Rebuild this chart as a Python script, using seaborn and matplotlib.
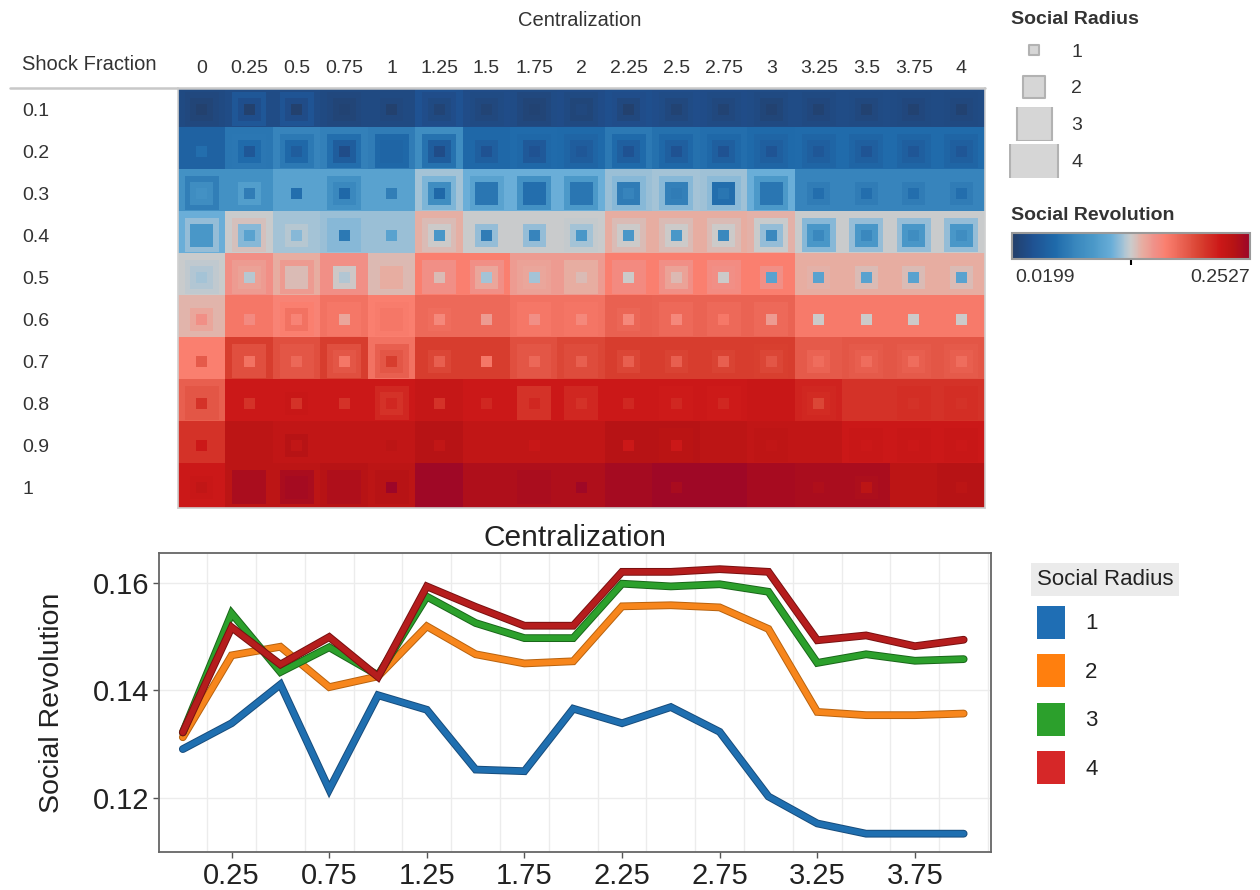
import numpy as np
import pandas as pd
import matplotlib
matplotlib.use("Agg")
import matplotlib.pyplot as plt
import matplotlib.patheffects as pe
from matplotlib.colors import LinearSegmentedColormap, Normalize
from matplotlib.cm import ScalarMappable
from matplotlib.patches import Patch, Rectangle
from matplotlib.lines import Line2D
import seaborn as sns

sns.set_theme(style="white")
plt.rcParams['font.family'] = ['Liberation Sans', 'DejaVu Sans']

# ---------------- data ----------------
centralization = [0, 0.25, 0.5, 0.75, 1, 1.25, 1.5, 1.75, 2, 2.25, 2.5, 2.75, 3, 3.25, 3.5, 3.75, 4]
central_labels = ["0", "0.25", "0.5", "0.75", "1", "1.25", "1.5", "1.75", "2", "2.25",
                  "2.5", "2.75", "3", "3.25", "3.5", "3.75", "4"]
shock_fraction = [0.1, 0.2, 0.3, 0.4, 0.5, 0.6, 0.7, 0.8, 0.9, 1.0]
shock_labels = ["0.1", "0.2", "0.3", "0.4", "0.5", "0.6", "0.7", "0.8", "0.9", "1"]
radii = [1, 2, 3, 4]
vmin, vmax = 0.0199, 0.2527

# heatmap values, rows = shock fraction, cols = centralization
rev_r4 = [
    [0.032,0.034,0.034,0.032,0.032,0.040,0.035,0.034,0.035,0.038,0.036,0.035,0.034,0.034,0.034,0.033,0.033],
    [0.055,0.070,0.080,0.078,0.075,0.088,0.060,0.063,0.062,0.072,0.067,0.065,0.062,0.063,0.063,0.063,0.063],
    [0.092,0.092,0.108,0.108,0.108,0.129,0.118,0.118,0.118,0.127,0.129,0.128,0.118,0.080,0.080,0.080,0.080],
    [0.118,0.136,0.129,0.127,0.127,0.147,0.136,0.136,0.136,0.148,0.148,0.148,0.146,0.136,0.136,0.136,0.136],
    [0.136,0.160,0.148,0.160,0.143,0.170,0.170,0.155,0.155,0.170,0.170,0.170,0.170,0.148,0.148,0.148,0.148],
    [0.145,0.175,0.168,0.178,0.170,0.182,0.182,0.178,0.178,0.187,0.186,0.186,0.186,0.173,0.173,0.173,0.173],
    [0.170,0.205,0.196,0.205,0.178,0.205,0.205,0.196,0.200,0.205,0.205,0.205,0.205,0.190,0.192,0.192,0.192],
    [0.188,0.224,0.224,0.224,0.224,0.228,0.224,0.224,0.224,0.224,0.224,0.224,0.226,0.218,0.210,0.210,0.210],
    [0.210,0.233,0.230,0.230,0.230,0.237,0.230,0.230,0.230,0.237,0.237,0.233,0.230,0.230,0.224,0.224,0.224],
    [0.224,0.233,0.233,0.237,0.233,0.250,0.241,0.241,0.241,0.247,0.250,0.250,0.246,0.244,0.244,0.233,0.237],
]
rev_r3 = [
    [0.030,0.045,0.042,0.030,0.032,0.036,0.033,0.030,0.032,0.036,0.034,0.033,0.032,0.032,0.033,0.032,0.032],
    [0.055,0.071,0.072,0.065,0.060,0.068,0.060,0.060,0.058,0.062,0.060,0.060,0.058,0.058,0.058,0.058,0.058],
    [0.076,0.092,0.108,0.092,0.108,0.121,0.108,0.092,0.100,0.1235,0.1235,0.124,0.100,0.080,0.080,0.080,0.080],
    [0.126,0.140,0.129,0.1235,0.127,0.142,0.136,0.136,0.135,0.142,0.142,0.142,0.136,0.1235,0.126,0.126,0.126],
    [0.134,0.155,0.155,0.160,0.143,0.160,0.160,0.152,0.148,0.163,0.160,0.162,0.170,0.148,0.148,0.148,0.148],
    [0.145,0.175,0.170,0.175,0.172,0.182,0.182,0.175,0.176,0.187,0.182,0.182,0.182,0.173,0.173,0.173,0.173],
    [0.170,0.196,0.192,0.196,0.188,0.205,0.205,0.192,0.198,0.205,0.205,0.205,0.204,0.190,0.190,0.190,0.190],
    [0.192,0.224,0.224,0.224,0.216,0.228,0.224,0.210,0.216,0.224,0.222,0.222,0.226,0.216,0.210,0.212,0.212],
    [0.210,0.233,0.230,0.230,0.230,0.237,0.230,0.230,0.230,0.237,0.235,0.233,0.232,0.230,0.226,0.226,0.226],
    [0.224,0.244,0.244,0.241,0.237,0.250,0.241,0.244,0.241,0.247,0.250,0.250,0.246,0.244,0.244,0.233,0.237],
]
rev_r2 = [
    [0.027,0.037,0.035,0.027,0.030,0.032,0.030,0.027,0.028,0.030,0.030,0.030,0.028,0.029,0.030,0.029,0.030],
    [0.055,0.063,0.060,0.050,0.058,0.050,0.052,0.047,0.050,0.052,0.052,0.052,0.052,0.052,0.052,0.052,0.052],
    [0.088,0.104,0.108,0.083,0.108,0.088,0.070,0.065,0.070,0.075,0.078,0.065,0.070,0.075,0.075,0.075,0.075],
    [0.099,0.1235,0.132,0.1235,0.127,0.137,0.126,0.126,0.129,0.137,0.137,0.137,0.126,0.099,0.099,0.099,0.099],
    [0.131,0.152,0.142,0.138,0.148,0.160,0.150,0.150,0.148,0.163,0.152,0.160,0.160,0.146,0.142,0.142,0.142],
    [0.150,0.175,0.178,0.175,0.175,0.180,0.182,0.175,0.176,0.184,0.182,0.182,0.182,0.173,0.173,0.173,0.173],
    [0.170,0.196,0.192,0.192,0.192,0.200,0.205,0.192,0.198,0.200,0.202,0.202,0.200,0.186,0.188,0.188,0.188],
    [0.192,0.224,0.226,0.224,0.210,0.228,0.224,0.210,0.216,0.224,0.222,0.222,0.226,0.214,0.210,0.212,0.212],
    [0.210,0.233,0.237,0.230,0.230,0.237,0.230,0.230,0.230,0.237,0.235,0.233,0.232,0.230,0.226,0.226,0.226],
    [0.226,0.244,0.247,0.241,0.237,0.250,0.241,0.244,0.241,0.247,0.250,0.250,0.246,0.244,0.242,0.233,0.237],
]
rev_r1 = [
    [0.022,0.022,0.022,0.025,0.022,0.026,0.026,0.025,0.030,0.022,0.025,0.025,0.024,0.024,0.024,0.024,0.024],
    [0.065,0.045,0.050,0.035,0.058,0.035,0.040,0.040,0.045,0.040,0.040,0.040,0.042,0.045,0.042,0.044,0.044],
    [0.092,0.075,0.065,0.060,0.076,0.060,0.070,0.065,0.070,0.080,0.075,0.070,0.070,0.065,0.065,0.065,0.065],
    [0.099,0.108,0.1235,0.072,0.108,0.099,0.075,0.080,0.099,0.099,0.099,0.083,0.083,0.083,0.083,0.088,0.088],
    [0.129,0.132,0.142,0.131,0.148,0.142,0.129,0.129,0.142,0.137,0.143,0.137,0.108,0.108,0.108,0.108,0.108],
    [0.160,0.163,0.168,0.150,0.175,0.165,0.155,0.160,0.165,0.165,0.165,0.174,0.155,0.137,0.137,0.137,0.137],
    [0.190,0.178,0.183,0.175,0.205,0.188,0.175,0.183,0.188,0.188,0.188,0.188,0.192,0.180,0.180,0.180,0.180],
    [0.210,0.210,0.210,0.210,0.216,0.210,0.216,0.216,0.210,0.216,0.216,0.216,0.226,0.200,0.210,0.210,0.210],
    [0.224,0.233,0.230,0.230,0.233,0.230,0.230,0.226,0.230,0.224,0.224,0.233,0.230,0.230,0.224,0.224,0.224],
    [0.230,0.244,0.247,0.241,0.2527,0.250,0.241,0.244,0.250,0.247,0.245,0.250,0.246,0.241,0.233,0.233,0.233],
]

# line chart: mean social revolution per centralization, per social radius
line_r1 = [0.1291,0.1339,0.1411,0.1216,0.1391,0.1364,0.1253,0.1250,0.1366,0.1339,0.1369,0.1323,0.1203,0.1153,0.1134,0.1134,0.1134]
line_r2 = [0.1313,0.1465,0.1481,0.1406,0.1426,0.1519,0.1467,0.1450,0.1454,0.1556,0.1558,0.1554,0.1514,0.1360,0.1354,0.1354,0.1357]
line_r3 = [0.1322,0.1543,0.1434,0.1480,0.1428,0.1574,0.1525,0.1497,0.1497,0.1598,0.1593,0.1597,0.1583,0.1451,0.1467,0.1455,0.1458]
line_r4 = [0.1322,0.1517,0.1448,0.1499,0.1425,0.1593,0.1555,0.1520,0.1520,0.1620,0.1620,0.1625,0.1620,0.1493,0.1502,0.1482,0.1494]

# ---------------- styles ----------------
cmap = LinearSegmentedColormap.from_list("rb", [
    (0.00, "#233f6a"), (0.08, "#1f5090"), (0.18, "#1f6aaa"), (0.27, "#3a88be"),
    (0.34, "#4a98c8"), (0.42, "#6aaed8"), (0.47, "#a8c4d6"), (0.50, "#cbcbcb"),
    (0.55, "#e8aca0"), (0.60, "#f09088"), (0.645, "#fa8070"), (0.72, "#e86050"),
    (0.79, "#d84030"), (0.875, "#cc1818"), (0.93, "#b81414"), (1.00, "#9c0628")])
norm = Normalize(vmin, vmax)
PX = 72 / 100.0
square_sizes = {1: (11 * PX) ** 2, 2: (23 * PX) ** 2, 3: (34 * PX) ** 2, 4: (48 * PX) ** 2}
legend_sizes = {1: (10 * PX) ** 2, 2: (23 * PX) ** 2, 3: (35 * PX) ** 2, 4: (48 * PX) ** 2}
line_colors = {1: "#1f6fb0", 2: "#f7861c", 3: "#2ca02c", 4: "#b51d1d"}
edge_colors = {1: "#174c7c", 2: "#b8620e", 3: "#196619", 4: "#781010"}
legend_colors = ["#1f6eb4", "#ff7f0e", "#2ca02c", "#d62728"]

W, H = 1260, 890
fig = plt.figure(figsize=(W / 100, H / 100), dpi=100)
fig.patch.set_facecolor("white")

def fx(px):
    return px / W

def fy(py):
    return 1 - py / H

# ---------------- top heatmap of nested squares ----------------
rows = []
for r, arr in zip(radii, [rev_r1, rev_r2, rev_r3, rev_r4]):
    for i, s in enumerate(shock_fraction):
        for j, c in enumerate(centralization):
            rows.append({"Centralization": c, "Shock Fraction": s, "Social Radius": r,
                         "Social Revolution": arr[i][j]})
heat_df = pd.DataFrame(rows).sort_values("Social Radius", ascending=False, kind="stable")

ax1 = fig.add_axes([fx(178), fy(508), fx(985) - fx(178), fy(88) - fy(508)])
sns.scatterplot(data=heat_df, x="Centralization", y="Shock Fraction", hue="Social Revolution",
                size="Social Radius", sizes=square_sizes, palette=cmap, hue_norm=(vmin, vmax),
                marker="s", linewidth=0, legend=False, ax=ax1)
ax1.set_xlim(-0.125, 4.125)
ax1.set_ylim(1.05, 0.05)
ax1.xaxis.tick_top()
ax1.set_xticks(centralization)
ax1.set_xticklabels(central_labels, fontsize=14, color="#333333")
ax1.set_yticks(shock_fraction)
ax1.set_yticklabels(shock_labels, fontsize=14, color="#333333")
ax1.tick_params(axis="x", length=0, pad=8)
ax1.tick_params(axis="y", length=0, pad=112)
for lab in ax1.get_yticklabels():
    lab.set_horizontalalignment("left")
ax1.set_xlabel("")
ax1.set_ylabel("")
ax1.spines["top"].set_visible(False)
for side in ["left", "bottom", "right"]:
    ax1.spines[side].set_color("#d0d0d0")
    ax1.spines[side].set_linewidth(1.2)

fig.add_artist(Line2D([fx(10), fx(985)], [fy(88), fy(88)], color="#c8c8c8", lw=1.8))
fig.text(fx(22), fy(65), "Shock Fraction", fontsize=14.5, color="#333333", ha="left", va="center")
fig.text(fx(580), fy(20), "Centralization", fontsize=14.5, color="#333333", ha="center", va="center")

# size legend (top right)
fig.text(fx(1011), fy(20), "Social Radius", fontsize=14, fontweight="bold", color="#333333",
         ha="left", va="center")
lax = fig.add_axes([fx(1009), fy(180), fx(50), fy(30) - fy(180)])
size_df = pd.DataFrame({"x": [0, 0, 0, 0], "Social Radius": radii})
for r in radii:
    sub = size_df[size_df["Social Radius"] == r]
    sns.scatterplot(data=sub, x="x", y="Social Radius", s=legend_sizes[r],
                    marker="s", color="#d6d6d6", edgecolor="#b2b2b2", linewidth=1.5,
                    legend=False, ax=lax)
    lax.collections[-1].set_clip_path(Rectangle((-1, r - 0.45), 2, 0.9, transform=lax.transData))
lax.set_xlim(-1, 1)
lax.set_ylim(4.54, 0.455)
lax.yaxis.tick_right()
lax.set_yticks(radii)
lax.set_yticklabels([str(r) for r in radii], fontsize=14, color="#333333")
lax.tick_params(axis="y", length=0, pad=9)
lax.set_xticks([])
lax.set_xlabel("")
lax.set_ylabel("")
for s in lax.spines.values():
    s.set_visible(False)
lax.patch.set_alpha(0)

# colour legend
fig.text(fx(1011), fy(215), "Social Revolution", fontsize=14, fontweight="bold", color="#333333",
         ha="left", va="center")
cax = fig.add_axes([fx(1012), fy(259), fx(1250) - fx(1012), fy(233) - fy(259)])
cb = fig.colorbar(ScalarMappable(norm=norm, cmap=cmap), cax=cax, orientation="horizontal")
cb.set_ticks([(vmin + vmax) / 2])
cax.tick_params(axis="x", direction="inout", length=9, width=1.5, color="black", labelbottom=False)
cb.outline.set_edgecolor("#9a9a9a")
cb.outline.set_linewidth(1.5)
fig.text(fx(1015), fy(278), "0.0199", fontsize=14, color="#333333", ha="left", va="center")
fig.text(fx(1250), fy(278), "0.2527", fontsize=14, color="#333333", ha="right", va="center")

# ---------------- bottom line chart ----------------
line_rows = []
for r, vals in zip(radii, [line_r1, line_r2, line_r3, line_r4]):
    for c, v in zip(centralization, vals):
        line_rows.append({"Centralization": c, "Social Revolution": v, "Social Radius": r})
line_df = pd.DataFrame(line_rows)

ax2 = fig.add_axes([fx(159), fy(852), fx(991) - fx(159), fy(553) - fy(852)])
sns.lineplot(data=line_df, x="Centralization", y="Social Revolution", hue="Social Radius",
             palette=line_colors, linewidth=4.2, legend=False, ax=ax2)
for ln, r in zip(ax2.lines, radii):
    ln.set_solid_joinstyle("miter")
    ln.set_path_effects([pe.Stroke(linewidth=5.6, foreground=edge_colors[r]), pe.Normal()])
    ln.set_zorder(3)

ax2.set_xlim(-0.122, 4.14)
ax2.set_ylim(0.1100, 0.1655)
ax2.set_xticks([0.25, 0.75, 1.25, 1.75, 2.25, 2.75, 3.25, 3.75])
ax2.set_xticklabels(["0.25", "0.75", "1.25", "1.75", "2.25", "2.75", "3.25", "3.75"], fontsize=21,
                    color="#222222")
ax2.set_yticks([0.12, 0.14, 0.16])
ax2.set_yticklabels(["0.12", "0.14", "0.16"], fontsize=21, color="#222222")
ax2.set_xticks(np.arange(0.125, 4.2, 0.25), minor=True)
ax2.grid(False)
ax2.grid(True, which="minor", axis="x", color="#ececec", lw=1.0)
ax2.grid(True, which="major", axis="y", color="#ececec", lw=1.0)
ax2.tick_params(axis="both", which="major", direction="out", length=4, width=1, color="#555555",
                bottom=True, left=True, pad=3)
ax2.tick_params(axis="x", which="minor", length=0)
for s in ax2.spines.values():
    s.set_color("#666666")
    s.set_linewidth(1.3)
    s.set_visible(True)
ax2.set_xlabel("")
ax2.set_ylabel("Social Revolution", fontsize=20.5, color="#222222", labelpad=20)
ax2.set_title("Centralization", fontsize=21.5, color="#222222", pad=5)

handles = [Patch(facecolor=c, edgecolor="none") for c in legend_colors]
leg = ax2.legend(handles, [str(r) for r in radii], title="Social Radius", loc="upper left",
                 bbox_to_anchor=(fx(1037), fy(569)), bbox_transform=fig.transFigure,
                 frameon=False, fontsize=16, title_fontsize=16, handlelength=1.27,
                 handleheight=1.91, labelspacing=0.7, handletextpad=0.9,
                 borderpad=0, borderaxespad=0, alignment="left")
leg.get_title().set_color("#222222")
leg.get_title().set_bbox(dict(facecolor="#ebebeb", edgecolor="none", pad=4))
for t in leg.get_texts():
    t.set_color("#222222")

fig.savefig("out.png", dpi=100, facecolor="white")
